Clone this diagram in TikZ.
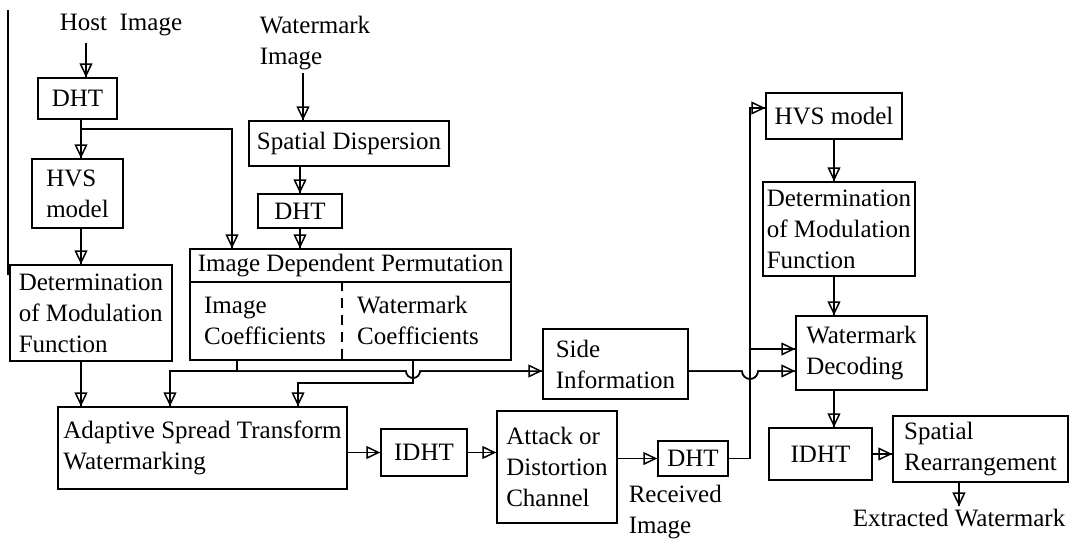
\documentclass[tikz,border=0pt]{standalone}
\usepackage{fontspec}
\setmainfont{Liberation Serif}
\usetikzlibrary{arrows.meta}

\begin{document}
\begin{tikzpicture}[x=1pt,y=1pt,yscale=-1,xscale=1,line width=1.5pt,
    font=\fontsize{25}{31}\selectfont,
    blk/.style={draw, inner sep=0pt, align=left},
    blkc/.style={draw, inner sep=0pt, align=center},
    lbl/.style={inner sep=2pt, align=left},
    arr/.style={-{Triangle[open,length=14pt,width=13pt]}, postaction={draw,-}}]
    \useasboundingbox (0,0) rectangle (1073,538);

    % embedding side
    \node[lbl] (host) at (121,25) {Host\ \ Image};
    \node[lbl, anchor=west] (wmimg) at (257,43) {Watermark\\Image};
    \node[blkc, minimum width=79, minimum height=41] (dhtA) at (77.5,98.5) {DHT};
    \node[blk, minimum width=91, minimum height=69] (hvsA) at (77.5,193.5) {HVS\\model};
    \node[blk, minimum width=162, minimum height=96] (detA) at (91,313) {Determination\\of Modulation\\Function};
    \node[blkc, minimum width=200, minimum height=45] (sdisp) at (349,143.5) {Spatial Dispersion};
    \node[blkc, minimum width=84, minimum height=34] (dhtB) at (300,211) {DHT};
    \node[blkc, minimum width=321, minimum height=33] (idpT) at (350.5,265.5) {Image Dependent Permutation};
    \node[draw, minimum width=321, minimum height=78] (idpB) at (350.5,321) {};
    \node[lbl] (imco) at (265,321) {Image\\Coefficients};
    \node[lbl] (wmco) at (418,320) {Watermark\\Coefficients};
    \draw[dash pattern=on 10pt off 7pt] ([xshift=-8.5pt]idpB.north) -- ([xshift=-8.5pt]idpB.south);
    \node[blk, minimum width=289, minimum height=82] (adapt) at (202.5,448) {Adaptive Spread Transform\\Watermarking};
    \node[blk, minimum width=145, minimum height=70] (side) at (615.5,364) {Side\\Information};

    % channel
    \node[blkc, minimum width=86, minimum height=47] (idhtA) at (424,452.5) {IDHT};
    \node[blk, minimum width=120, minimum height=112] (attack) at (557,467) {Attack or\\Distortion\\Channel};
    \node[blkc, minimum width=70, minimum height=35] (dhtC) at (693,458.5) {DHT};
    \node[lbl, anchor=west] (recv) at (626,512) {Received\\Image};

    % decoding side
    \node[blkc, minimum width=136, minimum height=46] (hvsB) at (834,116) {HVS model};
    \node[blk, minimum width=152, minimum height=94] (detB) at (839,229) {Determination\\of Modulation\\Function};
    \node[blk, minimum width=131, minimum height=74] (wdec) at (861.5,353) {Watermark\\Decoding};
    \node[blkc, minimum width=103, minimum height=52] (idhtB) at (820.5,454) {IDHT};
    \node[blk, minimum width=175, minimum height=66] (srear) at (980.5,449) {Spatial\\Rearrangement};
    \node[lbl] (extr) at (959,518) {Extracted Watermark};

    \coordinate (frameT) at (8,10);
    \coordinate (frameB) at (8,275);
    \draw (frameT) -- (frameB);

    \coordinate (hosttop) at (86,43);
    \coordinate (tapA) at (81,129);
    \coordinate (wmtop) at (303,73);
    \coordinate (jc) at (237,371);
    \coordinate (jw) at (413,383);
    \coordinate (hopA) at (406,371);
    \coordinate (hopB) at (742,371);
    \coordinate (tapB) at (750,349);

    \draw[arr] (hosttop) -- (hosttop |- dhtA.north);
    \draw[arr] (tapA |- dhtA.south) -- (tapA |- hvsA.north);
    \draw[arr] (tapA) -| ([xshift=-118.5pt]idpT.north);
    \draw[arr] (tapA |- hvsA.south) -- (tapA |- detA.north);
    \draw[arr] (tapA |- detA.south) -- (tapA |- adapt.north);
    \draw[arr] (wmtop) -- (wmtop |- sdisp.north);
    \draw[arr] (dhtB.north |- sdisp.south) -- (dhtB.north);
    \draw[arr] (dhtB.south) -- (dhtB.south |- idpT.north);

    \draw (jc |- idpB.south) -- (jc);
    \draw[arr] (jc) -| ([xshift=-32.5pt]adapt.north);
    \draw[arr] (jw |- idpB.south) -- (jw) -| ([xshift=95.5pt]adapt.north);
    \draw[arr] (jc) -- (hopA) arc[start angle=180, end angle=0, radius=7] -- (jc -| side.west);
    \draw[arr] (jc -| side.east) -- (hopB) arc[start angle=180, end angle=0, radius=8] -- (jc -| wdec.west);

    \draw[arr] (adapt.east |- idhtA.west) -- (idhtA.west);
    \draw[arr] (idhtA.east) -- (idhtA.east -| attack.west);
    \draw[arr] (attack.east |- dhtC.west) -- (dhtC.west);
    \draw[arr] (dhtC.east) -| (tapB) |- ([yshift=-8pt]hvsB.west);
    \draw[arr] (tapB) -- (tapB -| wdec.west);

    \draw[arr] (hvsB.south) -- (hvsB.south |- detB.north);
    \draw[arr] (hvsB.south |- detB.south) -- (hvsB.south |- wdec.north);
    \draw[arr] (hvsB.south |- wdec.south) -- (hvsB.south |- idhtB.north);
    \draw[arr] (idhtB.east) -- (idhtB.east -| srear.west);
    \draw[arr] (extr.north |- srear.south) -- (extr.north);
\end{tikzpicture}
\end{document}
